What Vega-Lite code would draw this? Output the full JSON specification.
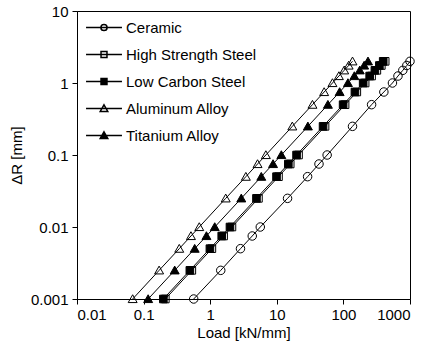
{
  "$schema": "https://vega.github.io/schema/vega-lite/v6.json",
  "width": 333,
  "height": 288,
  "autosize": {"type": "none"},
  "padding": {"left": 77, "top": 11, "right": 23, "bottom": 48},
  "background": "white",
  "config": {
    "view": {"stroke": "black", "strokeWidth": 1},
    "font": "Liberation Sans",
    "axis": {
      "labelFont": "Liberation Sans", "titleFont": "Liberation Sans",
      "labelFontSize": 15, "titleFontSize": 15, "titleFontWeight": "normal",
      "labelColor": "black", "titleColor": "black",
      "domainColor": "black", "tickColor": "black", "tickSize": 5,
      "grid": false
    },
    "legend": {"labelFont": "Liberation Sans", "labelFontSize": 15, "labelColor": "black"}
  },
  "data": {"values": [
    {"series": "Ceramic", "load": 0.565, "dr": 0.001},
    {"series": "Ceramic", "load": 1.44, "dr": 0.0025},
    {"series": "Ceramic", "load": 2.85, "dr": 0.005},
    {"series": "Ceramic", "load": 4.28, "dr": 0.0075},
    {"series": "Ceramic", "load": 5.65, "dr": 0.01},
    {"series": "Ceramic", "load": 14.5, "dr": 0.025},
    {"series": "Ceramic", "load": 29, "dr": 0.05},
    {"series": "Ceramic", "load": 43, "dr": 0.075},
    {"series": "Ceramic", "load": 57, "dr": 0.1},
    {"series": "Ceramic", "load": 137, "dr": 0.25},
    {"series": "Ceramic", "load": 265, "dr": 0.5},
    {"series": "Ceramic", "load": 405, "dr": 0.75},
    {"series": "Ceramic", "load": 545, "dr": 1},
    {"series": "Ceramic", "load": 660, "dr": 1.25},
    {"series": "Ceramic", "load": 780, "dr": 1.5},
    {"series": "Ceramic", "load": 895, "dr": 1.75},
    {"series": "Ceramic", "load": 1000, "dr": 2},
    {"series": "High Strength Steel", "load": 0.212, "dr": 0.001},
    {"series": "High Strength Steel", "load": 0.53, "dr": 0.0025},
    {"series": "High Strength Steel", "load": 1.06, "dr": 0.005},
    {"series": "High Strength Steel", "load": 1.59, "dr": 0.0075},
    {"series": "High Strength Steel", "load": 2.12, "dr": 0.01},
    {"series": "High Strength Steel", "load": 5.3, "dr": 0.025},
    {"series": "High Strength Steel", "load": 10.6, "dr": 0.05},
    {"series": "High Strength Steel", "load": 15.9, "dr": 0.075},
    {"series": "High Strength Steel", "load": 21.2, "dr": 0.1},
    {"series": "High Strength Steel", "load": 53, "dr": 0.25},
    {"series": "High Strength Steel", "load": 106, "dr": 0.5},
    {"series": "High Strength Steel", "load": 159, "dr": 0.75},
    {"series": "High Strength Steel", "load": 212, "dr": 1},
    {"series": "High Strength Steel", "load": 265, "dr": 1.25},
    {"series": "High Strength Steel", "load": 318, "dr": 1.5},
    {"series": "High Strength Steel", "load": 371, "dr": 1.75},
    {"series": "High Strength Steel", "load": 424, "dr": 2},
    {"series": "Low Carbon Steel", "load": 0.198, "dr": 0.001},
    {"series": "Low Carbon Steel", "load": 0.495, "dr": 0.0025},
    {"series": "Low Carbon Steel", "load": 0.99, "dr": 0.005},
    {"series": "Low Carbon Steel", "load": 1.49, "dr": 0.0075},
    {"series": "Low Carbon Steel", "load": 1.98, "dr": 0.01},
    {"series": "Low Carbon Steel", "load": 4.95, "dr": 0.025},
    {"series": "Low Carbon Steel", "load": 9.9, "dr": 0.05},
    {"series": "Low Carbon Steel", "load": 14.9, "dr": 0.075},
    {"series": "Low Carbon Steel", "load": 19.8, "dr": 0.1},
    {"series": "Low Carbon Steel", "load": 49.5, "dr": 0.25},
    {"series": "Low Carbon Steel", "load": 99, "dr": 0.5},
    {"series": "Low Carbon Steel", "load": 149, "dr": 0.75},
    {"series": "Low Carbon Steel", "load": 198, "dr": 1},
    {"series": "Low Carbon Steel", "load": 248, "dr": 1.25},
    {"series": "Low Carbon Steel", "load": 297, "dr": 1.5},
    {"series": "Low Carbon Steel", "load": 347, "dr": 1.75},
    {"series": "Low Carbon Steel", "load": 396, "dr": 2},
    {"series": "Aluminum Alloy", "load": 0.0685, "dr": 0.001},
    {"series": "Aluminum Alloy", "load": 0.171, "dr": 0.0025},
    {"series": "Aluminum Alloy", "load": 0.343, "dr": 0.005},
    {"series": "Aluminum Alloy", "load": 0.514, "dr": 0.0075},
    {"series": "Aluminum Alloy", "load": 0.685, "dr": 0.01},
    {"series": "Aluminum Alloy", "load": 1.71, "dr": 0.025},
    {"series": "Aluminum Alloy", "load": 3.43, "dr": 0.05},
    {"series": "Aluminum Alloy", "load": 5.14, "dr": 0.075},
    {"series": "Aluminum Alloy", "load": 6.85, "dr": 0.1},
    {"series": "Aluminum Alloy", "load": 17.1, "dr": 0.25},
    {"series": "Aluminum Alloy", "load": 34.3, "dr": 0.5},
    {"series": "Aluminum Alloy", "load": 51.4, "dr": 0.75},
    {"series": "Aluminum Alloy", "load": 68.5, "dr": 1},
    {"series": "Aluminum Alloy", "load": 85.6, "dr": 1.25},
    {"series": "Aluminum Alloy", "load": 102.8, "dr": 1.5},
    {"series": "Aluminum Alloy", "load": 119.9, "dr": 1.75},
    {"series": "Aluminum Alloy", "load": 137, "dr": 2},
    {"series": "Titanium Alloy", "load": 0.117, "dr": 0.001},
    {"series": "Titanium Alloy", "load": 0.293, "dr": 0.0025},
    {"series": "Titanium Alloy", "load": 0.585, "dr": 0.005},
    {"series": "Titanium Alloy", "load": 0.878, "dr": 0.0075},
    {"series": "Titanium Alloy", "load": 1.17, "dr": 0.01},
    {"series": "Titanium Alloy", "load": 2.93, "dr": 0.025},
    {"series": "Titanium Alloy", "load": 5.85, "dr": 0.05},
    {"series": "Titanium Alloy", "load": 8.78, "dr": 0.075},
    {"series": "Titanium Alloy", "load": 11.7, "dr": 0.1},
    {"series": "Titanium Alloy", "load": 29.3, "dr": 0.25},
    {"series": "Titanium Alloy", "load": 58.5, "dr": 0.5},
    {"series": "Titanium Alloy", "load": 87.8, "dr": 0.75},
    {"series": "Titanium Alloy", "load": 117, "dr": 1},
    {"series": "Titanium Alloy", "load": 146, "dr": 1.25},
    {"series": "Titanium Alloy", "load": 176, "dr": 1.5},
    {"series": "Titanium Alloy", "load": 205, "dr": 1.75},
    {"series": "Titanium Alloy", "load": 234, "dr": 2}
  ]},
  "encoding": {
    "x": {"field": "load", "type": "quantitative",
      "scale": {"type": "log", "domain": [0.01, 1000], "nice": false},
      "axis": {"title": "Load [kN/mm]", "values": [0.01, 0.1, 1, 10, 100, 1000], "format": "~g", "labelPadding": 3, "titlePadding": 3}},
    "y": {"field": "dr", "type": "quantitative",
      "scale": {"type": "log", "domain": [0.001, 10], "nice": false},
      "axis": {"title": "ΔR [mm]", "values": [0.001, 0.01, 0.1, 1, 10], "format": "~g", "labelPadding": 4, "titlePadding": 6}}
  },
  "resolve": {"scale": {"shape": "independent", "fill": "independent"}},
  "layer": [
    {
      "mark": {"type": "line", "color": "black", "strokeWidth": 1},
      "encoding": {"detail": {"field": "series"}}
    },
    {
      "mark": {"type": "point", "filled": true, "size": 80, "stroke": "black", "strokeWidth": 1, "opacity": 1},
      "encoding": {
        "shape": {"field": "series", "type": "nominal",
          "scale": {"domain": ["Ceramic", "High Strength Steel", "Low Carbon Steel", "Aluminum Alloy", "Titanium Alloy"],
            "range": [
              "M0.95,0A0.95,0.95,0,1,1,-0.95,0A0.95,0.95,0,1,1,0.95,0Z",
              "M-0.85,-0.85L0.85,-0.85L0.85,0.85L-0.85,0.85Z",
              "M-0.85,-0.85L0.85,-0.85L0.85,0.85L-0.85,0.85Z",
              "M0,-0.95L1,0.8L-1,0.8Z",
              "M0,-0.95L1,0.8L-1,0.8Z"]},
          "legend": null},
        "fill": {"field": "series", "type": "nominal",
          "scale": {"domain": ["Ceramic", "High Strength Steel", "Low Carbon Steel", "Aluminum Alloy", "Titanium Alloy"],
            "range": ["transparent", "transparent", "black", "transparent", "black"]},
          "legend": null}
      }
    },
    {
      "transform": [{"filter": "datum.dr > 100"}],
      "mark": {"type": "point", "filled": true, "size": 80, "stroke": "black", "strokeWidth": 1, "opacity": 1},
      "encoding": {
        "shape": {"field": "series", "type": "nominal",
          "scale": {"domain": ["Ceramic", "High Strength Steel", "Low Carbon Steel", "Aluminum Alloy", "Titanium Alloy"],
            "range": [
              "M-1.33,0L1.33,0M0.23,0A0.23,0.23,0,1,1,-0.23,0A0.23,0.23,0,1,1,0.23,0Z",
              "M-1.33,0L1.33,0M-0.22,-0.22L0.22,-0.22L0.22,0.22L-0.22,0.22Z",
              "M-1.33,0L1.33,0M-0.22,-0.22L0.22,-0.22L0.22,0.22L-0.22,0.22Z",
              "M-1.33,0L1.33,0M0,-0.27L0.28,0.22L-0.28,0.22Z",
              "M-1.33,0L1.33,0M0,-0.27L0.28,0.22L-0.28,0.22Z"]},
          "legend": {
            "title": null, "orient": "none", "legendX": 12.5, "legendY": 2,
            "padding": 0, "symbolSize": 729, "rowPadding": 4, "labelOffset": 7.5,
            "symbolOpacity": 1,
            "encode": {"symbols": {
              "stroke": {"value": "black"},
              "strokeWidth": {"value": 1}
            }}
          }},
        "fill": {"field": "series", "type": "nominal",
          "scale": {"domain": ["Ceramic", "High Strength Steel", "Low Carbon Steel", "Aluminum Alloy", "Titanium Alloy"],
            "range": ["transparent", "transparent", "black", "transparent", "black"]},
          "legend": {
            "title": null, "orient": "none", "legendX": 12.5, "legendY": 2,
            "padding": 0, "symbolSize": 729, "rowPadding": 4, "labelOffset": 7.5,
            "symbolOpacity": 1,
            "encode": {"symbols": {
              "stroke": {"value": "black"},
              "strokeWidth": {"value": 1}
            }}
          }}
      }
    }
  ]
}
